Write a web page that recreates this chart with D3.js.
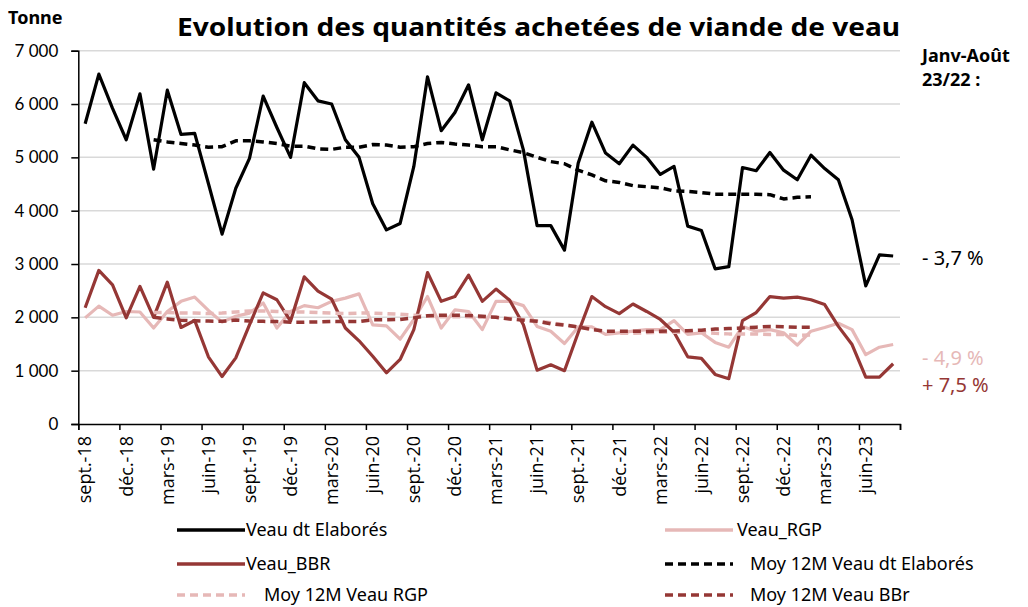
<!DOCTYPE html>
<html>
<head>
<meta charset="utf-8">
<script src="https://cdn.jsdelivr.net/npm/d3@7"></script>
<style>
  body { margin: 0; background: #fff; }
  text { font-family: "Noto Sans", Lato, sans-serif; }
</style>
</head>
<body>
<svg id="chart" width="1028" height="607"></svg>
<script>
// tick labels, one every 3 months starting sept.-18 (60 months in total)
const tickLabels = ["sept.-18","déc.-18","mars-19","juin-19","sept.-19","déc.-19","mars-20","juin-20",
  "sept.-20","déc.-20","mars-21","juin-21","sept.-21","déc.-21","mars-22","juin-22","sept.-22","déc.-22",
  "mars-23","juin-23"];
const nMonths = 60;

// monthly purchases, tonnes
const veauElab = [5630,6560,5920,5330,6190,4780,6260,5430,5450,4510,
  3560,4420,4980,6150,5560,5000,6400,6060,6000,5330,
  5000,4130,3640,3760,4830,6510,5500,5840,6360,5330,
  6210,6060,5140,3720,3720,3260,4890,5660,5080,4880,
  5230,5000,4680,4830,3710,3630,2910,2950,4810,4750,
  5090,4760,4580,5040,4790,4580,3830,2590,3170,3150];
const veauRgp = [1990,2210,2040,2110,2100,1800,2110,2300,2380,2130,
  1910,2020,2080,2270,1800,2110,2220,2180,2300,2360,
  2440,1860,1840,1590,1960,2390,1800,2140,2110,1770,
  2300,2300,2220,1830,1740,1510,1820,1820,1680,1710,
  1740,1770,1770,1940,1680,1710,1530,1440,1830,1740,
  1770,1710,1480,1740,1810,1890,1770,1300,1440,1490];
const veauBbr = [2180,2880,2610,1990,2580,2000,2660,1810,1940,1260,
  890,1240,1860,2460,2330,1930,2760,2490,2340,1800,
  1560,1270,960,1210,1770,2840,2300,2390,2790,2300,
  2530,2320,1860,1010,1110,1000,1710,2390,2200,2070,
  2250,2110,1960,1720,1260,1230,930,850,1940,2090,
  2390,2360,2380,2330,2240,1830,1490,880,880,1130];

// 12-month moving averages, available from month index 5 to 53
const moyStart = 5;
const moyElab = [5330,5290,5260,5230,5190,5200,5310,5310,5290,5260,5210,5210,5160,5150,5190,5190,
  5240,5230,5190,5200,5260,5280,5250,5230,5200,5200,5140,5090,5000,4920,4880,4760,4670,4560,4530,
  4470,4450,4430,4370,4360,4340,4310,4310,4310,4310,4300,4220,4250,4260];
const moyRgp = [2090,2090,2080,2080,2070,2080,2100,2120,2120,2110,2100,2100,2090,2080,2070,2080,
  2080,2070,2060,2040,2020,2010,2010,2010,2000,2000,1980,1960,1930,1900,1860,1820,1780,1730,1700,
  1700,1710,1720,1720,1720,1720,1700,1690,1690,1690,1680,1680,1660,1670];
const moyBbr = [2000,1970,1945,1935,1930,1925,1950,1930,1925,1920,1910,1910,1915,1925,1920,1920,
  1955,1955,1960,1990,2030,2040,2040,2035,2020,2000,1970,1945,1925,1880,1855,1820,1770,1740,1740,
  1740,1735,1740,1745,1750,1760,1780,1790,1800,1815,1830,1825,1815,1815];

const evolLabels = ["- 3,7 %", "- 4,9 %", "+ 7,5 %"];

const cBlack = "#000", cRgp = "#e6b8b7", cBbr = "#953735";

const svg = d3.select("#chart");
svg.append("rect").attr("width", 1028).attr("height", 607).attr("fill", "#fff");

const x = d3.scaleLinear().domain([0, nMonths]).range([78.3, 900]);
const y = d3.scaleLinear().domain([0, 7000]).range([424, 50.7]);

// gridlines
svg.append("g").selectAll("line")
  .data(d3.range(1000, 7001, 1000))
  .join("line")
  .attr("x1", x(0)).attr("x2", x(nMonths))
  .attr("y1", d => y(d)).attr("y2", d => y(d))
  .attr("stroke", "#d9d9d9").attr("stroke-width", 1.5);

// y axis
const yAxis = svg.append("g").attr("transform", `translate(${x(0)},0)`)
  .call(d3.axisLeft(y).tickValues(d3.range(0, 7001, 1000)).tickSize(7).tickPadding(13)
    .tickFormat(d => d3.format(",")(d).replace(",", " ")));
yAxis.selectAll("text").attr("font-size", 17).attr("fill", "#000")
  .style("font-family", "Lato, sans-serif");
yAxis.selectAll("line,path").attr("stroke", "#000").attr("stroke-width", 1.5);

// x axis: ticks at every 3rd month boundary
const xAxis = svg.append("g").attr("transform", `translate(0,${y(0)})`)
  .call(d3.axisBottom(x).tickValues(d3.range(0, nMonths + 1, 3)).tickSize(6).tickFormat(""));
xAxis.selectAll("line,path").attr("stroke", "#000").attr("stroke-width", 1.5);

svg.append("g").selectAll("text")
  .data(tickLabels)
  .join("text")
  .attr("transform", (d, i) => `translate(${x(i * 3 + 0.5)},436) rotate(-90)`)
  .attr("text-anchor", "end").attr("dy", "0.35em")
  .attr("font-size", 18)
  .style("font-family", "'Open Sans', sans-serif")
  .text(d => d);

// lines
const line = d3.line().x(d => x(d.i + 0.5)).y(d => y(d.v));
const toPts = (arr, start = 0) => arr.map((v, k) => ({ i: k + start, v }));

const series = [
  { data: toPts(veauElab), color: cBlack, dash: null, w: 3.2 },
  { data: toPts(veauRgp), color: cRgp, dash: null, w: 3.2 },
  { data: toPts(veauBbr), color: cBbr, dash: null, w: 3.2 },
  { data: toPts(moyElab, moyStart), color: cBlack, dash: "8,5", w: 3.5 },
  { data: toPts(moyRgp, moyStart), color: cRgp, dash: "8,5", w: 3.5 },
  { data: toPts(moyBbr, moyStart), color: cBbr, dash: "8,5", w: 3.5 }
];
svg.append("g").selectAll("path")
  .data(series)
  .join("path")
  .attr("d", d => line(d.data))
  .attr("fill", "none")
  .attr("stroke", d => d.color)
  .attr("stroke-width", d => d.w)
  .attr("stroke-dasharray", d => d.dash)
  .attr("stroke-linejoin", "round");

// title and labels
svg.append("text").attr("x", 177).attr("y", 36).attr("font-size", 25).attr("font-weight", "bold")
  .attr("textLength", 723).attr("lengthAdjust", "spacingAndGlyphs")
  .text("Evolution des quantités achetées de viande de veau");
svg.append("text").attr("x", 8).attr("y", 24).attr("font-size", 18).attr("font-weight", "bold")
  .text("Tonne");
svg.append("text").attr("x", 922).attr("y", 62).attr("font-size", 18).attr("font-weight", "bold")
  .text("Janv-Août");
svg.append("text").attr("x", 922).attr("y", 86).attr("font-size", 18).attr("font-weight", "bold")
  .text("23/22 :");

const evolColors = [cBlack, cRgp, cBbr];
const evolY = [258, 358, 385];
svg.append("g").selectAll("text")
  .data(evolLabels)
  .join("text")
  .attr("x", 922).attr("y", (d, i) => evolY[i]).attr("dy", "0.35em")
  .attr("font-size", 20).attr("fill", (d, i) => evolColors[i])
  .text(d => d);

// legend
const legendItems = [
  { name: "Veau dt Elaborés", color: cBlack, dash: null, lx: 177, tx: 246, ly: 530 },
  { name: "Veau_RGP", color: cRgp, dash: null, lx: 665, tx: 737, ly: 530 },
  { name: "Veau_BBR", color: cBbr, dash: null, lx: 177, tx: 246, ly: 564 },
  { name: "Moy 12M Veau dt Elaborés", color: cBlack, dash: "8,5", lx: 665, tx: 750, ly: 564 },
  { name: "Moy 12M Veau RGP", color: cRgp, dash: "8,5", lx: 177, tx: 264, ly: 595 },
  { name: "Moy 12M Veau BBr", color: cBbr, dash: "8,5", lx: 665, tx: 750, ly: 595 }
];
const lg = svg.append("g").selectAll("g").data(legendItems).join("g");
lg.append("line")
  .attr("x1", d => d.lx).attr("x2", d => d.lx + 68)
  .attr("y1", d => d.ly).attr("y2", d => d.ly)
  .attr("stroke", d => d.color).attr("stroke-width", 3.5)
  .attr("stroke-dasharray", d => d.dash);
lg.append("text")
  .attr("x", d => d.tx).attr("y", d => d.ly).attr("dy", "0.35em")
  .attr("font-size", 18)
  .text(d => d.name);
</script>
</body>
</html>
